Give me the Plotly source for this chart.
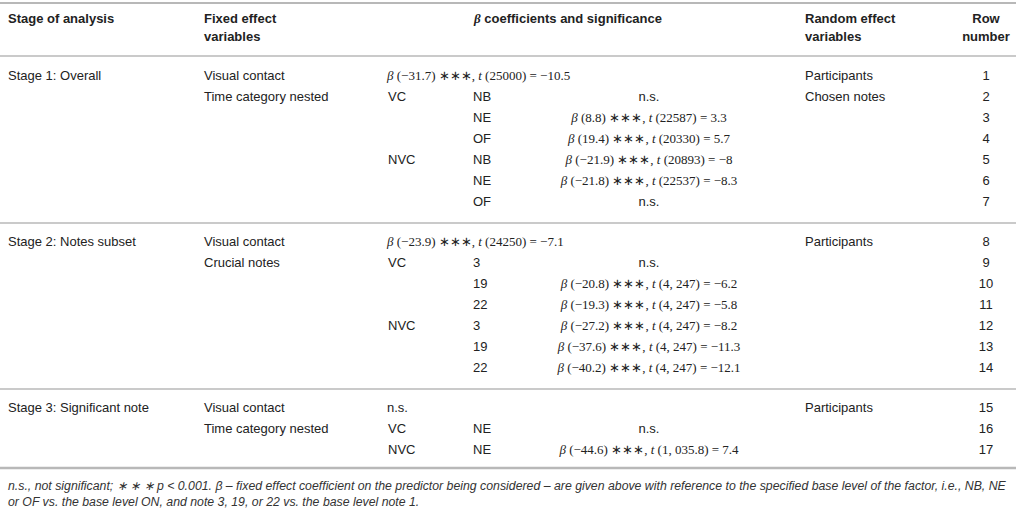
"""Mixed model results table drawn with plotly text traces"""

import plotly.graph_objs as go

# Table contents
row_numbers = list(range(1, 18))

stage_labels = ["Stage 1: Overall", "Stage 2: Notes subset", "Stage 3: Significant note"]
stage_rows = [1, 8, 15]

fixed_effects = ["Visual contact", "Time category nested", "Visual contact",
                 "Crucial notes", "Visual contact", "Time category nested"]
fixed_rows = [1, 2, 8, 9, 15, 16]

contact_levels = ["VC", "NVC", "VC", "NVC", "VC", "NVC"]
contact_rows = [2, 5, 9, 12, 16, 17]

sub_levels = ["NB", "NE", "OF", "NB", "NE", "OF",
              "3", "19", "22", "3", "19", "22",
              "NE", "NE"]
sub_rows = [2, 3, 4, 5, 6, 7, 9, 10, 11, 12, 13, 14, 16, 17]

# main effect (visual contact) coefficients, None = n.s.
main_beta = [-31.7, -23.9, None]
main_df = ["25000", "24250", None]
main_t = [-10.5, -7.1, None]
main_rows = [1, 8, 15]

# nested coefficients, one per sub level
nested_beta = [None, 8.8, 19.4, -21.9, -21.8, None,
               None, -20.8, -19.3, -27.2, -37.6, -40.2,
               None, -44.6]
nested_df = [None, "22587", "20330", "20893", "22537", None,
             None, "4, 247", "4, 247", "4, 247", "4, 247", "4, 247",
             None, "1, 035.8"]
nested_t = [None, 3.3, 5.7, -8, -8.3, None,
            None, -6.2, -5.8, -8.2, -11.3, -12.1,
            None, 7.4]

random_effects = ["Participants", "Chosen notes", "Participants", "Participants"]
random_rows = [1, 2, 8, 15]

header_top = ["Stage of analysis", "Fixed effect",
              '<span style="font-family:Liberation Serif"><i>β</i></span> coefficients and significance',
              "Random effect", "Row"]
header_bottom = ["variables", "variables", "number"]

footnote = [
    "n.s., not significant; ∗ ∗ ∗ p < 0.001. β – fixed effect coefficient on the predictor being considered – "
    "are given above with reference to the specified base level of the factor, i.e., NB, NE",
    "or OF vs. the base level ON, and note 3, 19, or 22 vs. the base level note 1.",
]

SANS = "Liberation Sans, Arial, sans-serif"
SERIF = "Liberation Serif, Times New Roman, serif"
NARROW = "Liberation Sans Narrow, Arial Narrow, Liberation Sans, sans-serif"
TXT = "#222222"
RULE = "#b8b8b8"


def row_y(r):
    # rows are ~21px apart, with an extra gap at each stage boundary
    stage = 0 if r < 8 else (1 if r < 15 else 2)
    return 77 + (r - 1) * 21 + 19 * stage


def num(v):
    return f"{v:g}".replace("-", "−")


def coef(b, d, t):
    if b is None:
        return "n.s."
    return f"<i>β</i> ({num(b)}) ∗∗∗, <i>t</i> ({d}) = {num(t)}"


main_text = [coef(b, d, t) for b, d, t in zip(main_beta, main_df, main_t)]
nested_text = [coef(b, d, t) for b, d, t in zip(nested_beta, nested_df, nested_t)]


def col(x, rows, text, pos="middle right", family=SANS, size=13, color=TXT):
    return go.Scatter(x=[x] * len(rows), y=[row_y(r) for r in rows], text=text,
                      mode="text", textposition=pos, hoverinfo="skip",
                      textfont=dict(family=family, size=size, color=color))


traces = [
    col(8, stage_rows, stage_labels),
    col(204, fixed_rows, fixed_effects),
    col(388, contact_rows, contact_levels),
    col(473, sub_rows, sub_levels),
    col(387, main_rows, main_text,
        family=[SERIF if b is not None else SANS for b in main_beta]),
    col(649, sub_rows, nested_text, pos="middle center",
        family=[SERIF if b is not None else SANS for b in nested_beta]),
    col(805, random_rows, random_effects),
    col(986, row_numbers, [str(n) for n in row_numbers], pos="middle center"),
]

# header cells
hdr_font = dict(family=SANS, size=13, color=TXT)
traces.append(go.Scatter(x=[8, 204, 568, 805, 986], y=[20] * 5,
                         text=[f"<b>{h}</b>" for h in header_top], mode="text",
                         textposition=["middle right", "middle right", "middle center",
                                       "middle right", "middle center"],
                         hoverinfo="skip", textfont=hdr_font))
traces.append(go.Scatter(x=[204, 805, 986], y=[38] * 3,
                         text=[f"<b>{h}</b>" for h in header_bottom], mode="text",
                         textposition=["middle right", "middle right", "middle center"],
                         hoverinfo="skip", textfont=hdr_font))

# footnote
traces.append(go.Scatter(x=[8, 8], y=[487, 503], text=[f"<i>{f}</i>" for f in footnote],
                         mode="text", textposition="middle right", hoverinfo="skip",
                         textfont=dict(family=NARROW, size=12.3, color="#333333")))

rules = [(3, 2), (56, 1.5), ((row_y(7) + row_y(8)) / 2, 1.5),
         ((row_y(14) + row_y(15)) / 2, 1.5), (468, 2.5)]
shapes = [dict(type="line", xref="x", yref="y", x0=0, x1=1016, y0=y, y1=y,
               line=dict(color=RULE, width=w)) for y, w in rules]

layout = go.Layout(width=1016, height=510, margin=dict(l=0, r=0, t=0, b=0),
                   paper_bgcolor="white", plot_bgcolor="white", showlegend=False,
                   xaxis=dict(range=[0, 1016], visible=False, fixedrange=True),
                   yaxis=dict(range=[510, 0], visible=False, fixedrange=True),
                   shapes=shapes)

fig = go.Figure(data=traces, layout=layout)
# the page body has a default 8px margin; drop it so the table fills the window
fig.write_html("out.html", config={"displayModeBar": False},
               post_script="document.body.style.margin='0';")
